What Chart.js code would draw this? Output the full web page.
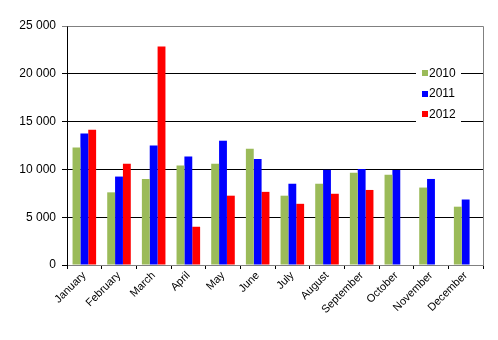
<!DOCTYPE html>
<html>
<head>
<meta charset="utf-8">
<script src="https://cdn.jsdelivr.net/npm/chart.js@4"></script>
<style>
  html, body { margin: 0; padding: 0; background: #fff; }
  #wrap { width: 498px; height: 340px; }
</style>
</head>
<body>
<div id="wrap"><canvas id="monthChart" width="498" height="340"></canvas></div>
<script>
// months on the x axis
const months = ['January', 'February', 'March', 'April', 'May', 'June',
  'July', 'August', 'September', 'October', 'November', 'December'];
// yearly series
const years = ['2010', '2011', '2012'];
const data2010 = [12300, 7600, 9000, 10400, 10600, 12150, 7250, 8500, 9650, 9450, 8100, 6100];
const data2011 = [13750, 9250, 12500, 11350, 13000, 11100, 8500, 9950, 10050, 9950, 9000, 6850];
const data2012 = [14150, 10600, 22850, 4000, 7250, 7650, 6400, 7450, 7850, null, null, null];
const yTicks = [0, 5000, 10000, 15000, 20000, 25000];
const colors = ['#9BBB59', '#0000FF', '#FF0000'];

const font = 'Arial, "Liberation Sans", sans-serif';

// grey frame on top/right and a legend box inside the plot
const framePlugin = {
  id: 'frame',
  beforeDatasetsDraw(chart) {
    const a = chart.chartArea, ctx = chart.ctx;
    ctx.save();
    ctx.strokeStyle = '#808080';
    ctx.lineWidth = 1;
    ctx.beginPath();
    ctx.moveTo(Math.round(a.left) + 0.5, Math.round(a.top) + 0.5);
    ctx.lineTo(Math.round(a.right) + 0.5, Math.round(a.top) + 0.5);
    ctx.lineTo(Math.round(a.right) + 0.5, Math.round(a.bottom) + 0.5);
    ctx.stroke();
    ctx.restore();
  },
  afterDraw(chart) {
    const ctx = chart.ctx;
    ctx.save();
    ctx.fillStyle = '#fff';
    ctx.fillRect(416, 65, 45, 58);
    ctx.font = '12px ' + font;
    ctx.textBaseline = 'middle';
    chart.data.datasets.forEach((ds, i) => {
      const y = 73 + i * 20.5;
      ctx.fillStyle = ds.backgroundColor;
      ctx.fillRect(422, Math.round(y) - 3, 6, 6);
      ctx.fillStyle = '#000';
      ctx.fillText(ds.label, 429, y + 0.5);
    });
    ctx.restore();
  }
};

const ctxEl = document.getElementById('monthChart');
const monthChart = new Chart(ctxEl, {
  type: 'bar',
  data: {
    labels: months,
    datasets: [
      { label: years[0], data: data2010, backgroundColor: colors[0] },
      { label: years[1], data: data2011, backgroundColor: colors[1] },
      { label: years[2], data: data2012, backgroundColor: colors[2] }
    ]
  },
  options: {
    responsive: false,
    animation: false,
    devicePixelRatio: 1,
    layout: { padding: { top: 26, right: 15, left: 0, bottom: 0 } },
    datasets: { bar: { barPercentage: 1, categoryPercentage: 0.68 } },
    scales: {
      x: {
        afterFit(scale) { scale.height = 75; },
        grid: { drawOnChartArea: false, drawTicks: true, tickLength: 4, color: '#000' },
        border: { color: '#808080' },
        ticks: {
          minRotation: 45, maxRotation: 45, color: '#000',
          font: { family: font, size: 11 }, padding: 0
        }
      },
      y: {
        min: 0, max: 25000,
        afterFit(scale) { scale.width = 67; },
        afterBuildTicks(scale) { scale.ticks = yTicks.map(v => ({ value: v })); },
        grid: {
          color: c => (c.tick && c.tick.value === 25000 ? '#808080' : '#000'),
          tickLength: 5
        },
        border: { color: '#000' },
        ticks: {
          color: '#000', padding: 6,
          font: { family: font, size: 12 },
          callback: v => String(v).replace(/\B(?=(\d{3})+(?!\d))/g, ' ')
        }
      }
    },
    plugins: {
      legend: { display: false },
      tooltip: { enabled: false }
    }
  },
  plugins: [framePlugin]
});
</script>
</body>
</html>
